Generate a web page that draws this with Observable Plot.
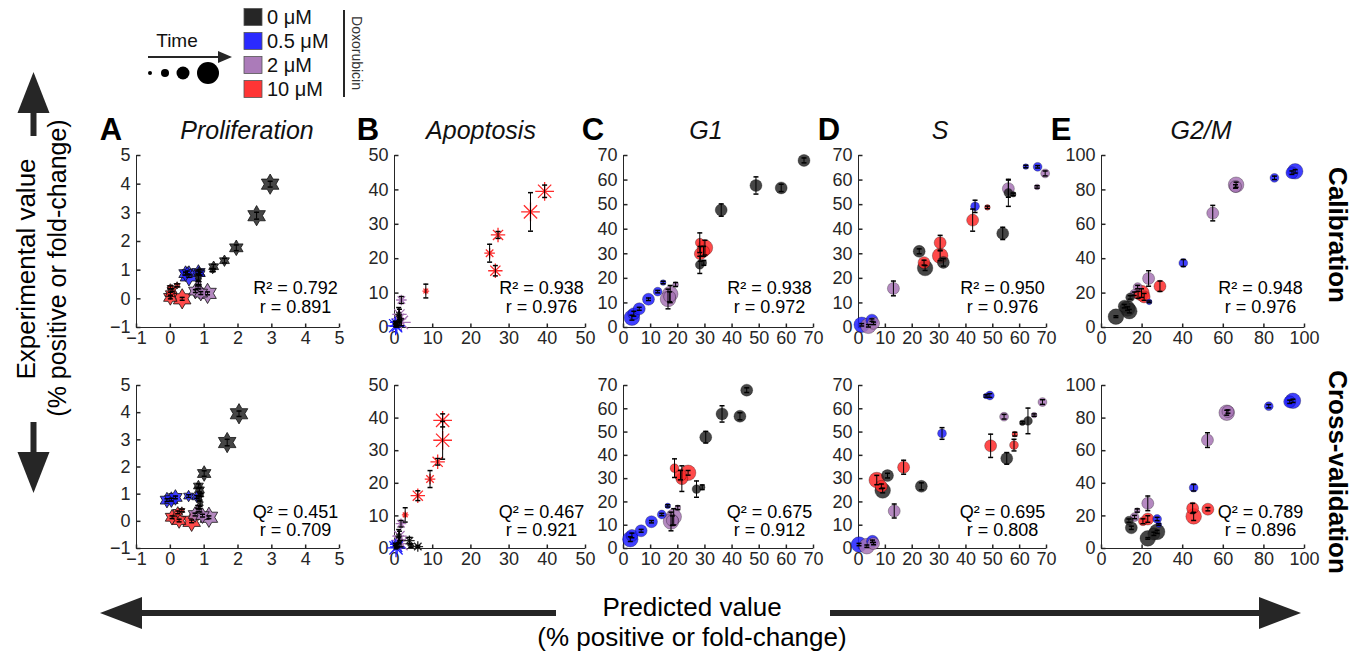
<!DOCTYPE html>
<html><head><meta charset="utf-8">
<script src="https://cdn.jsdelivr.net/npm/d3@7"></script>
<script src="https://cdn.jsdelivr.net/npm/@observablehq/plot@0.6"></script>
<style>
body{margin:0;background:#fff;}
#root{position:relative;width:1362px;height:659px;overflow:hidden;font-family:"Liberation Sans",Arial,sans-serif;color:#262626;background:#fff;}
.abs{position:absolute;white-space:nowrap;line-height:1;}
.pnl{position:absolute;}
</style></head><body><div id="root"></div>
<script>
// ---------- DATA: [predicted, experimental, doseIndex, timeIndex, errorbar] ----------
const doseLabels = ["0 μM", "0.5 μM", "2 μM", "10 μM"];
const panelLetters = ["A", "B", "C", "D", "E"];
const panelTitles = ["Proliferation", "Apoptosis", "G1", "S", "G2/M"];
const calStats = [["R² = 0.792","r = 0.891"],["R² = 0.938","r = 0.976"],["R² = 0.938","r = 0.972"],["R² = 0.950","r = 0.976"],["R² = 0.948","r = 0.976"]];
const cvStats  = [["Q² = 0.451","r = 0.709"],["Q² = 0.467","r = 0.921"],["Q² = 0.675","r = 0.912"],["Q² = 0.695","r = 0.808"],["Q² = 0.789","r = 0.896"]];
const axisDomains = [[-1,5],[0,50],[0,70],[0,70],[0,100]];
const axisTicks = [[-1,0,1,2,3,4,5],[0,10,20,30,40,50],[0,10,20,30,40,50,60,70],[0,10,20,30,40,50,60,70],[0,20,40,60,80,100]];

const calProliferation = [
  [2.95,4.0,0,4,0.1],[2.55,2.9,0,4,0.12],[1.95,1.78,0,3,0.1],[1.6,1.33,0,2,0.08],[1.28,1.12,0,2,0.08],[1.25,1.0,0,1,0.05],[0.85,0.92,0,2,0.1],[0.83,0.75,0,1,0.1],
  [0.45,0.88,1,3,0.05],[0.55,0.8,1,4,0.05],[0.5,0.92,1,2,0.05],[0.83,0.92,1,3,0.05],[0.88,0.88,1,2,0.05],
  [0.83,0.55,2,1,0.05],[0.82,0.4,2,1,0.05],[0.74,0.27,2,3,0.05],[0.9,0.2,2,3,0.05],[1.1,0.19,2,4,0.05],
  [0.0,0.4,3,1,0.05],[0.05,0.3,3,2,0.05],[0.0,0.18,3,2,0.05],[0.0,0.05,3,3,0.05],[0.2,0.47,3,1,0.05],[0.35,0.0,3,4,0.05]
];
const cvProliferation = [
  [2.03,3.96,0,4,0.1],[1.68,2.9,0,4,0.12],[1.0,1.76,0,3,0.1],[0.83,1.3,0,2,0.08],[0.86,1.16,0,2,0.08],[0.9,0.97,0,1,0.05],[0.85,0.85,0,1,0.1],[0.88,0.65,0,1,0.1],
  [-0.1,0.78,1,3,0.05],[0.03,0.8,1,3,0.05],[0.15,0.88,1,3,0.05],[0.54,0.93,1,2,0.05],[0.78,0.9,1,2,0.05],
  [0.83,0.53,2,1,0.05],[0.85,0.4,2,1,0.05],[0.73,0.25,2,3,0.05],[0.95,0.21,2,3,0.05],[1.14,0.15,2,4,0.05],
  [0.05,0.15,3,3,0.05],[0.26,0.03,3,3,0.05],[0.63,0.0,3,4,0.05],[0.34,0.4,3,1,0.05],[0.22,0.33,3,2,0.05]
];
const calApoptosis = [
  [39.3,39.6,3,4,1.8],[35.6,33.6,3,4,5.6],[27.1,26.9,3,3,1.0],[24.9,21.6,3,2,2.6],[26.4,16.5,3,3,1.5],[8.2,10.6,3,1,2.0],
  [1.8,8.0,2,2,1.0],[1.3,3.8,2,3,1.5],[1.8,1.5,2,4,1.0],[1.2,2.5,2,3,1.0],
  [1.1,3.8,0,1,2.0],[1.3,2.0,0,1,1.0],[0.5,1.0,0,1,0.5],
  [0.3,0.5,1,4,0.3],[0.2,1.5,1,2,0.3],[0.6,0.3,1,3,0.2]
];
const cvApoptosis = [
  [12.6,39.3,3,4,2.0],[12.6,33.2,3,4,5.8],[11.3,26.6,3,3,1.0],[9.3,21.3,3,2,2.6],[6.1,16.2,3,3,1.5],[2.8,10.3,3,1,2.2],
  [1.7,7.6,2,2,1.0],[1.3,3.8,2,3,1.5],[1.7,1.5,2,4,1.0],[1.1,2.5,2,3,1.0],
  [3.9,2.4,0,2,1.0],[6.1,0.6,0,2,0.3],[4.3,0.9,0,1,0.5],[1.1,3.8,0,1,2.0],[0.6,0.8,0,1,0.5],
  [0.4,0.2,1,4,0.3],[0.2,1.3,1,2,0.3],[0.7,0.5,1,3,0.2]
];
const calG1 = [
  [66.5,68,0,3,1],[48.8,57.8,0,3,3.5],[58.1,56.8,0,3,1.5],[36,47.8,0,3,2.5],[28.1,25.5,0,2,3.5],[29.6,26.3,0,1,1],
  [30,32.5,3,4,3],[28.1,34.5,3,2,4],[28.3,30,3,3,3],[29.5,31,3,3,2],
  [3.1,4,1,4,1],[3.8,5.6,1,3,1],[5.8,7.6,1,3,0.6],[9.2,11.5,1,3,0.5],[12.6,14.6,1,2,0.5],[14.6,18.3,1,1,0.5],
  [17.2,13.6,2,4,3.5],[16.4,11.6,2,4,4],[19.2,17.5,2,1,0.8],[17,12.5,2,3,2]
];
const cvG1 = [
  [45.4,68,0,3,1],[36.3,57.8,0,3,3.5],[42.9,56.8,0,3,1.5],[30.3,47.8,0,3,2.5],[26.9,25.5,0,2,3.5],[29,26.3,0,1,1],
  [23.8,32.5,3,4,1],[18.8,34.5,3,2,4],[21.5,30,3,3,5.5],[21,31.5,3,3,2],
  [2.5,4,1,4,1],[3.1,5.6,1,3,1],[6.5,7.6,1,3,0.6],[10.3,11.5,1,3,0.5],[14.1,14.6,1,2,0.5],[16.3,18.3,1,1,0.5],
  [18.5,13.6,2,4,3.5],[17.5,11.6,2,4,4],[20,17.5,2,1,0.8],[18,12,2,3,2]
];
const calS = [
  [62.3,65.5,1,1,0.5],[66.7,65.4,1,2,0.5],[43.4,49.3,1,2,2.5],[1.2,1.1,1,4,0.5],[5,3,1,3,0.5],
  [69.5,62.7,2,2,1],[66.5,57.2,2,1,0.5],[55.8,56.5,2,3,3.5],[13,15.9,2,3,3],[3.7,0.7,2,4,0.5],[5.6,1.7,2,3,0.5],
  [55.8,54.8,0,2,5.5],[57.6,54.2,0,1,0.5],[53.7,38.3,0,3,2.5],[31.6,26.5,0,3,1.5],[22.6,31,0,3,1],[24.8,24.2,0,4,1],
  [48,48.9,3,1,0.5],[42.5,43.7,3,3,4.5],[30.4,34.5,3,3,3],[30.4,29.2,3,4,2],[24.4,26.4,3,3,1]
];
const cvS = [
  [48.9,65.7,1,2,0.8],[47.5,65.5,1,1,0.5],[31.1,49.4,1,2,2.5],[0.2,1.7,1,4,0.5],[5.2,3.1,1,3,0.5],
  [68.5,62.9,2,2,1],[65.4,57.3,2,1,0.5],[54.2,56.6,2,2,1],[13.3,16.1,2,3,3],[3.1,1,2,4,0.5],[5.6,2.1,2,3,0.5],
  [63.1,54.8,0,2,5.5],[61,54,0,1,0.5],[55.2,38.7,0,3,2.5],[23.4,26.7,0,3,1.5],[10.8,31.3,0,3,1],[9,24.9,0,4,1],
  [58.2,49.1,3,1,0.8],[49.2,44.1,3,3,5],[57.9,44.4,3,2,2.5],[16.8,34.9,3,3,3],[6.8,29.4,3,4,2],[8.5,26.7,3,3,1]
];
const calG2M = [
  [95.4,90.8,1,4,1],[93.8,90,1,3,1],[85.2,87,1,2,1],[40.3,37.5,1,2,2],[23.5,14.9,1,1,0.5],
  [66.3,83,2,4,1.5],[66,82,2,3,1],[54.8,66.5,2,3,4.5],[23.2,28.5,2,3,4.5],[17.8,23.5,2,2,1],[16.1,19.6,2,2,1],
  [28.8,24,3,3,3],[19.7,20,3,4,2.5],[21,17.8,3,3,2],[18,19,3,2,2],
  [14.1,17.5,0,2,1],[12.8,11,0,4,1],[13.7,9.5,0,4,1],[7.1,6.3,0,4,0.5],[11.2,12.4,0,3,1]
];
const cvG2M = [
  [94.3,90.6,1,4,1],[92.7,90,1,3,1],[82.4,87.3,1,2,1],[45.4,37.3,1,2,2],[28.2,14.7,1,1,0.5],[27.4,18.1,1,2,1],
  [61.7,83.3,2,4,1.5],[62.3,84,2,3,1],[52.2,66.5,2,3,4.5],[22.8,27.7,2,3,4.5],[17.6,23.3,2,1,1],[16.3,19.3,2,2,1],
  [44.9,24.7,3,3,3],[52.4,24.1,3,3,1],[45.4,19.7,3,4,2.5],[22.8,18.1,3,3,2],[20.4,16.7,3,2,1.5],
  [13.5,17.1,0,2,1],[14.7,12.7,0,3,1],[22.8,6.2,0,4,0.5],[27.4,10.2,0,4,1],[25.8,9,0,3,1]
];
const calibrationSets = [calProliferation, calApoptosis, calG1, calS, calG2M];
const crossValSets = [cvProliferation, cvApoptosis, cvG1, cvS, cvG2M];

// ---------- STYLE / LAYOUT ----------
const doseColors = ["#262626", "#1f1fff", "#a774b5", "#ff2a2a"];
const timeRadius = [0, 2.8, 4.4, 6, 7.8];
const markerKinds = ["hexagram", "asterisk", "circle", "circle", "circle"];
const colX = [[136,339],[394,585],[623,813],[858,1046],[1101,1304]];
const rowY = [[155,327],[385,548]];
const ink = "#262626";

const hexagram = {draw(ctx, size) {
  const R = Math.sqrt(size / Math.PI) * 1.3, r = R / Math.sqrt(3);
  for (let i = 0; i < 12; i++) {
    const a = -Math.PI / 2 + i * Math.PI / 6, rr = i % 2 ? r : R;
    const px = rr * Math.cos(a), py = rr * Math.sin(a);
    if (i) ctx.lineTo(px, py); else ctx.moveTo(px, py);
  }
  ctx.closePath();
}};
const asterisk8 = {draw(ctx, size) {
  const R = Math.sqrt(size / Math.PI) * 1.2;
  for (let i = 0; i < 4; i++) {
    const a = i * Math.PI / 4;
    ctx.moveTo(R * Math.cos(a), R * Math.sin(a));
    ctx.lineTo(-R * Math.cos(a), -R * Math.sin(a));
  }
}};
const capSym = {draw(ctx) { ctx.moveTo(-2.5, 0); ctx.lineTo(2.5, 0); }};
const yTickSym = {draw(ctx) { ctx.moveTo(0, 0); ctx.lineTo(4, 0); }};
const xTickSym = {draw(ctx) { ctx.moveTo(0, 0); ctx.lineTo(0, -4); }};

const root = document.getElementById("root");
function addText(str, cx, cy, css, rot = 0) {
  const d = document.createElement("div");
  d.className = "abs";
  d.textContent = str;
  Object.assign(d.style, {left: cx + "px", top: cy + "px", transform: `translate(-50%,-50%) rotate(${rot}deg)`}, css);
  root.appendChild(d);
}

function makePanel(col, row, rows) {
  const [x0, x1] = colX[col], [y0, y1] = rowY[row];
  const dom = axisDomains[col], ticks = axisTicks[col];
  const mL = 46, mR = 12, mT = 12, mB = 26;
  const kind = markerKinds[col];
  const pts = rows.map(([x, y, dose, time, err]) => ({x, y, dose, time, err}));
  const dotOpts = {x: "x", y: "y", r: d => timeRadius[d.time]};
  if (kind === "asterisk") Object.assign(dotOpts, {symbol: asterisk8, fill: "none", stroke: d => doseColors[d.dose], strokeWidth: 1.3});
  else if (kind === "hexagram") Object.assign(dotOpts, {symbol: hexagram, fill: d => doseColors[d.dose], fillOpacity: 0.85, stroke: "#111", strokeWidth: 0.8});
  else Object.assign(dotOpts, {symbol: "circle", fill: d => doseColors[d.dose], fillOpacity: 0.85, stroke: "#000", strokeOpacity: 0.35, strokeWidth: 0.8});
  const stats = row === 0 ? calStats[col] : cvStats[col];
  const sdy = row === 0 ? [-34, -15] : [-31, -13];
  const chart = Plot.plot({
    width: (x1 - x0) + mL + mR, height: (y1 - y0) + mT + mB,
    marginLeft: mL, marginRight: mR, marginTop: mT, marginBottom: mB,
    x: {domain: dom, label: null}, y: {domain: dom, label: null},
    color: {type: "identity"}, r: {type: "identity"},
    style: {fontFamily: '"Liberation Sans", Arial, sans-serif', fontSize: "18px", color: ink, background: "transparent", overflow: "visible"},
    marks: [
      Plot.ruleX([dom[0]], {stroke: ink, strokeWidth: 1}),
      Plot.ruleY([dom[0]], {stroke: ink, strokeWidth: 1}),
      Plot.dot(ticks, {x: () => dom[0], y: d => d, symbol: yTickSym, stroke: ink, r: 1}),
      Plot.dot(ticks, {x: d => d, y: () => dom[0], symbol: xTickSym, stroke: ink, r: 1}),
      Plot.axisX(ticks, {tickSize: 0, tickPadding: 4, fontSize: 18}),
      Plot.axisY(ticks, {tickSize: 0, tickPadding: 6, fontSize: 18}),
      Plot.dot(pts, dotOpts),
      Plot.ruleX(pts, {x: "x", y1: d => d.y - d.err, y2: d => d.y + d.err, stroke: "#000", strokeWidth: 1}),
      Plot.dot(pts, {x: "x", y: d => d.y - d.err, symbol: capSym, stroke: "#000", r: 1}),
      Plot.dot(pts, {x: "x", y: d => d.y + d.err, symbol: capSym, stroke: "#000", r: 1}),
      Plot.text([stats[0]], {text: d => d, frameAnchor: "bottom-right", dx: -44, dy: sdy[0], textAnchor: "middle", fontSize: 18, fill: "#000"}),
      Plot.text([stats[1]], {text: d => d, frameAnchor: "bottom-right", dx: -44, dy: sdy[1], textAnchor: "middle", fontSize: 18, fill: "#000"})
    ]
  });
  chart.classList.add("pnl");
  chart.style.left = (x0 - mL) + "px";
  chart.style.top = (y0 - mT) + "px";
  root.appendChild(chart);
}

calibrationSets.forEach((s, i) => makePanel(i, 0, s));
crossValSets.forEach((s, i) => makePanel(i, 1, s));

// ---------- decorations: arrows and legend ----------
const NS = "http://www.w3.org/2000/svg";
const deco = document.createElementNS(NS, "svg");
deco.setAttribute("width", 1362); deco.setAttribute("height", 659);
deco.style.position = "absolute"; deco.style.left = "0"; deco.style.top = "0"; deco.style.pointerEvents = "none";
function el(tag, attrs) { const e = document.createElementNS(NS, tag); for (const k in attrs) e.setAttribute(k, attrs[k]); deco.appendChild(e); return e; }
el("rect", {x: 30.5, y: 108, width: 6, height: 28, fill: ink});
el("polygon", {points: "33.5,72 17.5,113 49.5,113", fill: ink});
el("rect", {x: 30.5, y: 422, width: 6, height: 34, fill: ink});
el("polygon", {points: "33.5,493 17.5,452 49.5,452", fill: ink});
el("rect", {x: 138, y: 610, width: 418, height: 6, fill: ink});
el("polygon", {points: "100,613 142,597 142,629", fill: ink});
el("rect", {x: 830, y: 610, width: 432, height: 6, fill: ink});
el("polygon", {points: "1301,613 1259,597 1259,629", fill: ink});
el("line", {x1: 148, y1: 57, x2: 222, y2: 57, stroke: ink, "stroke-width": 2});
el("polygon", {points: "232,57 218,51 218,63", fill: ink});
const legendTimeX = [150, 165, 183, 208], legendTimeR = [2, 4, 6.5, 11];
legendTimeX.forEach((x, i) => el("circle", {cx: x, cy: 73, r: legendTimeR[i], fill: "#000"}));
const legendY = [17, 41, 65, 89];
doseLabels.forEach((t, i) => el("rect", {x: 244, y: legendY[i] - 8.5, width: 18, height: 17, fill: doseColors[i], "fill-opacity": i === 0 ? 1 : 0.95, stroke: "#555", "stroke-width": 0.8}));
el("line", {x1: 344, y1: 10, x2: 344, y2: 97, stroke: ink, "stroke-width": 2});
root.appendChild(deco);

doseLabels.forEach((t, i) => {
  const d = document.createElement("div");
  d.className = "abs"; d.textContent = t;
  Object.assign(d.style, {left: "267px", top: legendY[i] + "px", transform: "translateY(-50%)", fontSize: "20px", color: "#111"});
  root.appendChild(d);
});
addText("Time", 177, 40, {fontSize: "19px", color: "#111"});
addText("Doxorubicin", 357, 53, {fontSize: "14px", color: "#333"}, 90);

const letterX = [111, 368, 593, 829, 1061], titleX = [247, 481, 706, 940, 1201];
panelLetters.forEach((t, i) => addText(t, letterX[i], 129, {fontSize: "31px", fontWeight: "bold", color: "#000"}));
panelTitles.forEach((t, i) => addText(t, titleX[i], 130, {fontSize: "25px", fontStyle: "italic", color: "#111"}));
addText("Calibration", 1338, 235, {fontSize: "26px", fontWeight: "bold", color: "#000"}, 90);
addText("Cross-validation", 1338, 472, {fontSize: "26px", fontWeight: "bold", color: "#000"}, 90);
addText("Experimental value", 26, 269, {fontSize: "26px", color: "#000"}, -90);
addText("(% positive or fold-change)", 57, 268, {fontSize: "25px", color: "#000"}, -90);
addText("Predicted value", 692, 607, {fontSize: "26px", color: "#000"});
addText("(% positive or fold-change)", 692, 637, {fontSize: "26px", color: "#000"});
</script></body></html>
